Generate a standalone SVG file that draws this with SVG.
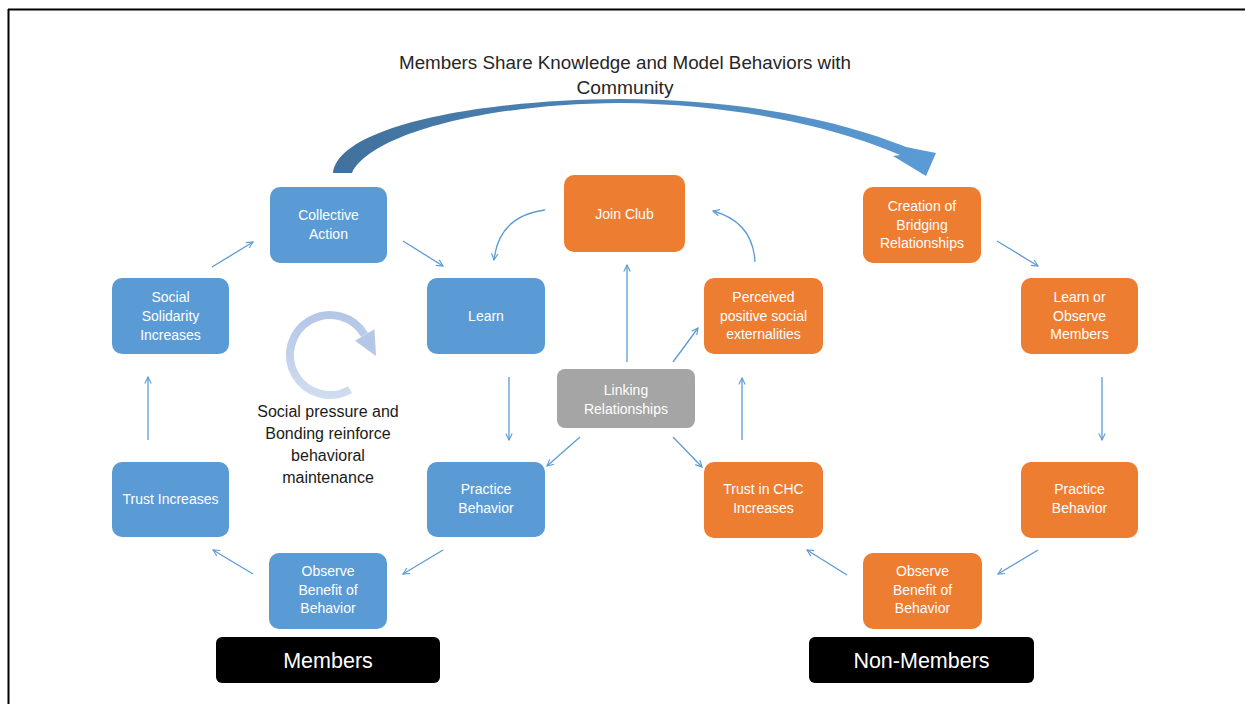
<svg xmlns="http://www.w3.org/2000/svg" width="1245" height="704" viewBox="0 0 1245 704">
<defs>
<style>
.blue{fill:#5b9bd5;}
.orange{fill:#ed7d31;}
.gray{fill:#a5a5a5;}
.lbl{fill:#000;}
.nt{font-family:"Liberation Sans",Arial,sans-serif;font-size:14px;fill:#ffffff;text-anchor:middle;}
.bt{font-family:"Liberation Sans",Arial,sans-serif;font-size:21.5px;fill:#ffffff;text-anchor:middle;}
.tt{font-family:"Liberation Sans",Arial,sans-serif;font-size:17.5px;fill:#262626;text-anchor:middle;}
.ct{font-family:"Liberation Sans",Arial,sans-serif;font-size:16px;fill:#1a1a1a;text-anchor:middle;}
.con{fill:none;stroke:#5b9bd5;stroke-width:1.3;marker-end:url(#ah);}
</style>
<marker id="ah" viewBox="0 0 10 10" refX="9" refY="5" markerWidth="8" markerHeight="8" markerUnits="userSpaceOnUse" orient="auto">
<path d="M1,1 L9,5 L1,9" fill="none" stroke="#5b9bd5" stroke-width="1.4"/>
</marker>
<linearGradient id="bigArrow" x1="333" y1="0" x2="933" y2="0" gradientUnits="userSpaceOnUse">
<stop offset="0" stop-color="#41719c"/>
<stop offset="1" stop-color="#5b9bd5"/>
</linearGradient>
<linearGradient id="circ" x1="0" y1="315" x2="0" y2="398" gradientUnits="userSpaceOnUse">
<stop offset="0" stop-color="#b4c7e7"/>
<stop offset="1" stop-color="#d0ddf0"/>
</linearGradient>
</defs>
<rect x="0" y="0" width="1245" height="704" fill="#ffffff"/>
<!-- frame -->
<g id="frame">
<line x1="8" y1="9.5" x2="1245" y2="9.5" stroke="#000" stroke-width="2"/>
<line x1="8.5" y1="9" x2="8.5" y2="704" stroke="#000" stroke-width="2"/>
</g>
<!-- title -->
<g id="title">
<text class="tt" x="625" y="69" textLength="452" lengthAdjust="spacingAndGlyphs">Members Share Knowledge and Model Behaviors with</text>
<text class="tt" x="625" y="94" textLength="97" lengthAdjust="spacingAndGlyphs">Community</text>
</g>
<!-- big curved arrow -->
<g id="share-arrow">
<path d="M333,173 C338,128 470,100 620,99 C745,99 845,122 906,147 L936,153 L926,176 L893,156 L900,155 C840,129 740,104 620,103 C482,104 370,135 352,173 Z" fill="url(#bigArrow)"/>
</g>
<!-- circular arrow -->
<g id="cycle-icon">
<path d="M350,389.6 A40,40 0 1 1 364.6,335" fill="none" stroke="url(#circ)" stroke-width="8"/>
<path d="M374.5,329.3 L355,340.7 L376,356 Z" fill="#b4c7e7"/>
<text class="ct" x="328" y="417">Social pressure and</text>
<text class="ct" x="328" y="439">Bonding reinforce</text>
<text class="ct" x="328" y="461">behavioral</text>
<text class="ct" x="328" y="483">maintenance</text>
</g>
<!-- connectors -->
<g id="connectors">
<path class="con" d="M212,267 L253,242"/>
<path class="con" d="M403,241 L443,266"/>
<path class="con" d="M545,210 Q499,216 494,260"/>
<path class="con" d="M509,377 L509,440"/>
<path class="con" d="M443,550 L403,574"/>
<path class="con" d="M253,574 L213,550"/>
<path class="con" d="M148,440 L148,377"/>
<path class="con" d="M580,437 L547,466"/>
<path class="con" d="M627,362 L627,265"/>
<path class="con" d="M673,362 L698,328"/>
<path class="con" d="M673,437 L702,467"/>
<path class="con" d="M742,440 L742,378"/>
<path class="con" d="M755,262 Q753,222 713,211"/>
<path class="con" d="M997,241 L1038,266"/>
<path class="con" d="M1102,377 L1102,440"/>
<path class="con" d="M1038,550 L998,574"/>
<path class="con" d="M847,575 L807,550"/>
</g>
<!-- member nodes -->
<g id="collective-action">
<rect class="blue" x="270" y="187" width="117" height="76" rx="10"/>
<text class="nt" x="328.5" y="220">Collective</text>
<text class="nt" x="328.5" y="239">Action</text>
</g>
<g id="social-solidarity">
<rect class="blue" x="112" y="278" width="117" height="76" rx="10"/>
<text class="nt" x="170.5" y="302">Social</text>
<text class="nt" x="170.5" y="321">Solidarity</text>
<text class="nt" x="170.5" y="340">Increases</text>
</g>
<g id="learn">
<rect class="blue" x="427" y="278" width="118" height="76" rx="10"/>
<text class="nt" x="486" y="321">Learn</text>
</g>
<g id="trust-increases">
<rect class="blue" x="112" y="462" width="117" height="75" rx="10"/>
<text class="nt" x="170.5" y="504">Trust Increases</text>
</g>
<g id="practice-behavior-m">
<rect class="blue" x="427" y="462" width="118" height="75" rx="10"/>
<text class="nt" x="486" y="494">Practice</text>
<text class="nt" x="486" y="513">Behavior</text>
</g>
<g id="observe-benefit-m">
<rect class="blue" x="269" y="553" width="118" height="76" rx="10"/>
<text class="nt" x="328" y="576">Observe</text>
<text class="nt" x="328" y="595">Benefit  of</text>
<text class="nt" x="328" y="613">Behavior</text>
</g>
<g id="members-label">
<rect class="lbl" x="216" y="637" width="224" height="46" rx="6"/>
<text class="bt" x="328" y="668">Members</text>
</g>
<!-- center nodes -->
<g id="join-club">
<rect class="orange" x="564" y="175" width="121" height="77" rx="10"/>
<text class="nt" x="624.5" y="219">Join Club</text>
</g>
<g id="perceived-externalities">
<rect class="orange" x="704" y="278" width="119" height="76" rx="10"/>
<text class="nt" x="763.5" y="302">Perceived</text>
<text class="nt" x="763.5" y="321">positive social</text>
<text class="nt" x="763.5" y="339">externalities</text>
</g>
<g id="linking-relationships">
<rect class="gray" x="557" y="369" width="138" height="59" rx="8"/>
<text class="nt" x="626" y="395">Linking</text>
<text class="nt" x="626" y="414">Relationships</text>
</g>
<!-- non-member nodes -->
<g id="bridging-relationships">
<rect class="orange" x="863" y="187" width="118" height="76" rx="10"/>
<text class="nt" x="922" y="211">Creation of</text>
<text class="nt" x="922" y="230">Bridging</text>
<text class="nt" x="922" y="248">Relationships</text>
</g>
<g id="learn-observe">
<rect class="orange" x="1021" y="278" width="117" height="76" rx="10"/>
<text class="nt" x="1079.5" y="302">Learn or</text>
<text class="nt" x="1079.5" y="321">Observe</text>
<text class="nt" x="1079.5" y="339">Members</text>
</g>
<g id="trust-chc">
<rect class="orange" x="704" y="462" width="119" height="76" rx="10"/>
<text class="nt" x="763.5" y="494">Trust in CHC</text>
<text class="nt" x="763.5" y="513">Increases</text>
</g>
<g id="practice-behavior-n">
<rect class="orange" x="1021" y="462" width="117" height="76" rx="10"/>
<text class="nt" x="1079.5" y="494">Practice</text>
<text class="nt" x="1079.5" y="513">Behavior</text>
</g>
<g id="observe-benefit-n">
<rect class="orange" x="863" y="553" width="119" height="76" rx="10"/>
<text class="nt" x="922.5" y="576">Observe</text>
<text class="nt" x="922.5" y="595">Benefit  of</text>
<text class="nt" x="922.5" y="613">Behavior</text>
</g>
<g id="nonmembers-label">
<rect class="lbl" x="809" y="637" width="225" height="46" rx="6"/>
<text class="bt" x="921.5" y="668">Non-Members</text>
</g>
</svg>
